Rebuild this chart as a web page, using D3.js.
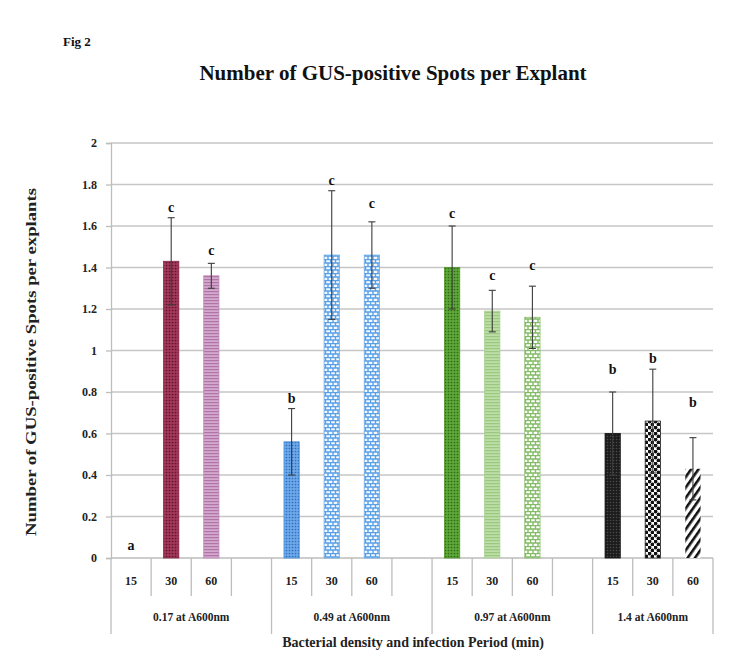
<!DOCTYPE html>
<html>
<head>
<meta charset="utf-8">
<script src="https://cdn.jsdelivr.net/npm/d3@7/dist/d3.min.js"></script>
<style>
  html, body { margin: 0; padding: 0; background: #ffffff; }
  svg { display: block; font-family: "Liberation Serif", "Times New Roman", serif; font-weight: bold; }
</style>
</head>
<body>
<svg id="chart" width="737" height="657"></svg>
<script>
// Bacterial density groups (OD at A600nm) and infection periods (min)
const groups = ["0.17 at A600nm", "0.49 at A600nm", "0.97 at A600nm", "1.4 at A600nm"];
const periods = ["15", "30", "60"];

// Mean number of GUS-positive spots per explant, one row per density group
const means = [
  [0.00, 1.43, 1.36],
  [0.56, 1.46, 1.46],
  [1.40, 1.19, 1.16],
  [0.60, 0.66, 0.43]
];

// Error bar half-widths
const errors = [
  [0.00, 0.21, 0.06],
  [0.16, 0.31, 0.16],
  [0.20, 0.10, 0.15],
  [0.20, 0.25, 0.15]
];

// Significance letters and the value level at which each one sits
const letters = [
  ["a", "c", "c"],
  ["b", "c", "c"],
  ["c", "c", "c"],
  ["b", "b", "b"]
];
const letterLevels = [
  [0.06, 1.69, 1.48],
  [0.77, 1.82, 1.71],
  [1.66, 1.36, 1.41],
  [0.91, 0.96, 0.75]
];

const yTicks = [0, 0.2, 0.4, 0.6, 0.8, 1, 1.2, 1.4, 1.6, 1.8, 2];
const yTickLabels = ["0", "0.2", "0.4", "0.6", "0.8", "1", "1.2", "1.4", "1.6", "1.8", "2"];

const figLabel = "Fig 2";
const title = "Number of GUS-positive Spots per Explant";
const yTitle = "Number of GUS-positive  Spots per explants";
const xTitle = "Bacterial density and infection Period  (min)";

// ---------------------------------------------------------------------------
const svg = d3.select("#chart");
const plot = { left: 111, right: 713, top: 143, bottom: 558 };
const axisGrey = "#bdbdbd";

// Fill patterns, one per bar (group x period)
const defs = svg.append("defs");

function dotPattern(id, bg, fg, size, r) {
  const p = defs.append("pattern").attr("id", id).attr("patternUnits", "userSpaceOnUse")
    .attr("width", size).attr("height", size);
  p.append("rect").attr("width", size).attr("height", size).attr("fill", bg);
  p.append("circle").attr("cx", size / 2).attr("cy", size / 2).attr("r", r).attr("fill", fg);
}
function linePattern(id, bg, fg, gap, thick) {
  const p = defs.append("pattern").attr("id", id).attr("patternUnits", "userSpaceOnUse")
    .attr("width", 4).attr("height", gap);
  p.append("rect").attr("width", 4).attr("height", gap).attr("fill", bg);
  p.append("rect").attr("y", 0).attr("width", 4).attr("height", thick).attr("fill", fg);
}
function brickPattern(id, stroke, bg) {
  const w = 10, h = 7;
  const p = defs.append("pattern").attr("id", id).attr("patternUnits", "userSpaceOnUse")
    .attr("width", w).attr("height", h);
  p.append("rect").attr("width", w).attr("height", h).attr("fill", bg);
  const path = `M0,0.5H${w} M0,4H${w} M0.5,0.5V4 M5.5,0.5V4 M3,4V${h} M8,4V${h}`;
  p.append("path").attr("d", path).attr("stroke", stroke).attr("stroke-width", 1.4).attr("fill", "none");
}
function checkerPattern(id) {
  const s = 6;
  const p = defs.append("pattern").attr("id", id).attr("patternUnits", "userSpaceOnUse")
    .attr("width", s).attr("height", s);
  p.append("rect").attr("width", s).attr("height", s).attr("fill", "#ffffff");
  p.append("circle").attr("cx", 1.5).attr("cy", 1.5).attr("r", 1.9).attr("fill", "#111");
  p.append("circle").attr("cx", 4.5).attr("cy", 4.5).attr("r", 1.9).attr("fill", "#111");
}
function diagPattern(id) {
  const s = 6;
  const p = defs.append("pattern").attr("id", id).attr("patternUnits", "userSpaceOnUse")
    .attr("width", s).attr("height", s).attr("patternTransform", "rotate(35)");
  p.append("rect").attr("width", s).attr("height", s).attr("fill", "#ffffff");
  p.append("rect").attr("width", 2.6).attr("height", s).attr("fill", "#111");
}

dotPattern("f00", "#ffffff", "#ffffff", 3, 0.5);
dotPattern("f01", "#a3385a", "#5f1229", 3, 0.85);
linePattern("f02", "#d3a9cc", "#b274a8", 3, 1.2);
dotPattern("f10", "#6ea8e8", "#2c6fc4", 3, 0.85);
brickPattern("f11", "#5aa0e6", "#f4f9ff");
brickPattern("f12", "#5aa0e6", "#f4f9ff");
dotPattern("f20", "#5ea838", "#2c6a14", 3, 0.85);
linePattern("f21", "#bedda9", "#98c97e", 3, 1.2);
brickPattern("f22", "#84bb66", "#ffffff");
dotPattern("f30", "#1c1c1c", "#4a4a4a", 3, 0.8);
checkerPattern("f31");
diagPattern("f32");

const barStroke = [
  ["none", "#8a2848", "#c08bb8"],
  ["#4f8fd8", "#6aaae8", "#6aaae8"],
  ["#4f922a", "#a8d08e", "#86bb68"],
  ["#111", "#222", "none"]
];

// Category slots: each group holds its periods, with an empty slot between groups
const slots = [];
groups.forEach((g, gi) => {
  periods.forEach((p, pi) => slots.push({ key: `${gi}-${pi}`, gi, pi, label: p }));
  if (gi < groups.length - 1) slots.push({ key: `${gi}-gap`, gi, pi: null, label: "" });
});

const x = d3.scaleBand().domain(slots.map(s => s.key)).range([plot.left, plot.right]).padding(0);
const y = d3.scaleLinear().domain([0, 2]).range([plot.bottom, plot.top]);
const bw = x.bandwidth();
const barW = bw * 0.38;

// Horizontal gridlines
svg.append("g").selectAll("line").data(yTicks.filter(t => t > 0)).join("line")
  .attr("x1", plot.left).attr("x2", plot.right)
  .attr("y1", d => y(d)).attr("y2", d => y(d))
  .attr("stroke", "#c6c6c6").attr("stroke-width", 1.3);

// Y axis
const yAxis = svg.append("g").attr("transform", `translate(${plot.left},0)`)
  .call(d3.axisLeft(y).tickValues(yTicks).tickSize(5).tickPadding(9)
    .tickFormat((d, i) => yTickLabels[i]));
yAxis.select(".domain").attr("stroke", axisGrey).attr("stroke-width", 1.3);
yAxis.selectAll(".tick line").attr("stroke", axisGrey).attr("stroke-width", 1.3);
yAxis.selectAll(".tick text").attr("font-size", 12).attr("font-family", "Liberation Serif")
  .attr("font-weight", "bold").attr("fill", "#222");

// X axis: baseline, slot boundaries and labels
svg.append("line").attr("x1", plot.left).attr("x2", plot.right)
  .attr("y1", plot.bottom).attr("y2", plot.bottom)
  .attr("stroke", axisGrey).attr("stroke-width", 1.3);

const boundaries = slots.map((s, i) => ({
  xpos: x(s.key),
  major: i === 0 || s.pi === 0
}));
boundaries.push({ xpos: plot.right, major: true });
svg.append("g").selectAll("line").data(boundaries).join("line")
  .attr("x1", d => d.xpos).attr("x2", d => d.xpos)
  .attr("y1", plot.bottom).attr("y2", d => d.major ? 634 : 596)
  .attr("stroke", axisGrey).attr("stroke-width", 1.3);

const xAxis = svg.append("g").attr("transform", `translate(0,${plot.bottom})`)
  .call(d3.axisBottom(x).tickSize(0).tickPadding(18)
    .tickFormat(k => slots.find(s => s.key === k).label));
xAxis.select(".domain").remove();
xAxis.selectAll(".tick text").attr("font-size", 12).attr("font-family", "Liberation Serif")
  .attr("font-weight", "bold").attr("fill", "#222");

// Group labels centred over each group's slots
svg.append("g").selectAll("text").data(groups).join("text")
  .attr("x", (g, gi) => {
    const ks = slots.filter(s => s.gi === gi);
    const a = x(ks[0].key), b = x(ks[ks.length - 1].key) + bw;
    return (a + b) / 2;
  })
  .attr("y", 621).attr("text-anchor", "middle")
  .attr("font-size", 11.5).attr("fill", "#222")
  .text(d => d);

// Bars
const barData = [];
groups.forEach((g, gi) => periods.forEach((p, pi) => barData.push({
  gi, pi, key: `${gi}-${pi}`, v: means[gi][pi], e: errors[gi][pi],
  letter: letters[gi][pi], lv: letterLevels[gi][pi]
})));

svg.append("g").selectAll("rect").data(barData.filter(d => d.v > 0)).join("rect")
  .attr("x", d => x(d.key) + (bw - barW) / 2)
  .attr("width", barW)
  .attr("y", d => y(d.v))
  .attr("height", d => y(0) - y(d.v))
  .attr("fill", d => `url(#f${d.gi}${d.pi})`)
  .attr("stroke", d => barStroke[d.gi][d.pi])
  .attr("stroke-width", 0.8);

// Error bars
const eb = svg.append("g").attr("stroke", "#3c3c3c").attr("stroke-width", 1.1);
barData.filter(d => d.e > 0).forEach(d => {
  const cx = x(d.key) + bw / 2;
  eb.append("line").attr("x1", cx).attr("x2", cx).attr("y1", y(d.v + d.e)).attr("y2", y(d.v - d.e));
  [d.v + d.e, d.v - d.e].forEach(v => {
    eb.append("line").attr("x1", cx - 3.5).attr("x2", cx + 3.5).attr("y1", y(v)).attr("y2", y(v));
  });
});

// Significance letters
svg.append("g").selectAll("text").data(barData).join("text")
  .attr("x", d => x(d.key) + bw / 2)
  .attr("y", d => y(d.lv) + 4.5)
  .attr("text-anchor", "middle").attr("font-size", 14).attr("fill", "#111")
  .text(d => d.letter);

// Titles
svg.append("text").attr("x", 63).attr("y", 46).attr("font-size", 13).attr("fill", "#111").text(figLabel);
svg.append("text").attr("x", 393).attr("y", 80).attr("text-anchor", "middle")
  .attr("font-size", 21).attr("fill", "#111").text(title);
svg.append("text").attr("transform", "translate(36,362) rotate(-90)")
  .attr("text-anchor", "middle").attr("font-size", 14)
  .attr("textLength", 348).attr("lengthAdjust", "spacingAndGlyphs")
  .attr("fill", "#222").text(yTitle);
svg.append("text").attr("x", 413).attr("y", 647).attr("text-anchor", "middle")
  .attr("font-size", 14).attr("fill", "#222").text(xTitle);
</script>
</body>
</html>
